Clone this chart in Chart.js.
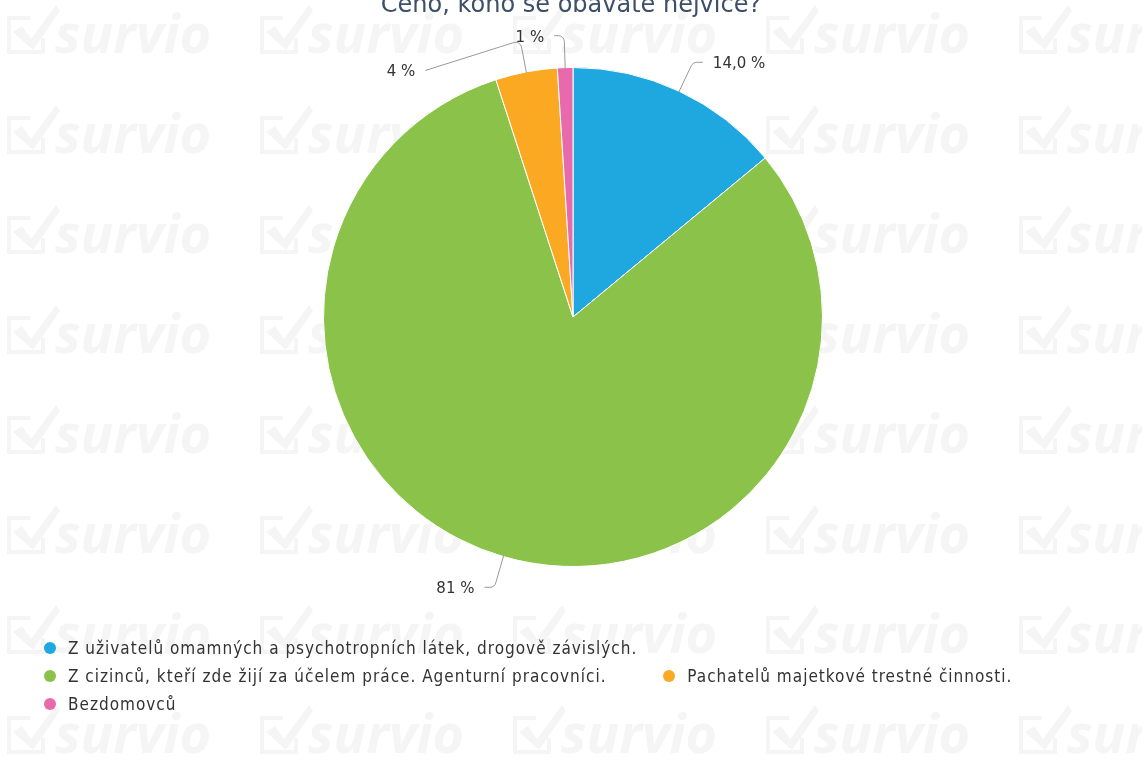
<!DOCTYPE html>
<html>
<head>
<meta charset="utf-8">
<script src="https://cdn.jsdelivr.net/npm/chart.js@4.4.1/dist/chart.umd.min.js"></script>
<style>
  html, body { margin: 0; padding: 0; background: #fff; }
  #wrap { position: relative; width: 1142px; height: 757px; overflow: hidden; }
  #c { position: absolute; left: 0; top: 0; }
  #legend {
    position: absolute; left: 44px; top: 637px;
    display: grid; grid-template-columns: max-content max-content;
    column-gap: 26px; row-gap: 6px;
    font-family: "DejaVu Sans Condensed", "DejaVu Sans", sans-serif; font-size: 17px; color: #333;
    letter-spacing: 1px;
  }
  .li { display: flex; align-items: center; white-space: nowrap; height: 22px; }
  .dot { width: 12px; height: 12px; border-radius: 50%; margin-right: 12px; flex: none; }
</style>
</head>
<body>
<div id="wrap">
  <canvas id="c" width="1142" height="757"></canvas>
  <div id="legend"></div>
</div>
<script>
const titleText = "Čeho, koho se obáváte nejvíce?";
const categories = [
  "Z uživatelů omamných a psychotropních látek, drogově závislých.",
  "Z cizinců, kteří zde žijí za účelem práce. Agenturní pracovníci.",
  "Pachatelů majetkové trestné činnosti.",
  "Bezdomovců"
];
const values = [14, 81, 4, 1];
const valueLabels = ["14,0 %", "81 %", "4 %", "1 %"];
const colors = ["#1fa8e0", "#8bc34a", "#fba923", "#e86aad"];

const watermark = {
  id: 'watermark',
  beforeDraw(chart) {
    const ctx = chart.ctx;
    ctx.save();
    ctx.fillStyle = '#f5f5f5';
    ctx.strokeStyle = '#f5f5f5';
    for (let j = 0; j < 8; j++) {
      for (let i = 0; i < 5; i++) {
        const x0 = 253 * i, y0 = 100 * j;
        ctx.lineWidth = 4;
        ctx.beginPath();
        ctx.moveTo(x0 + 30, y0 + 18);
        ctx.lineTo(x0 + 9, y0 + 18);
        ctx.lineTo(x0 + 9, y0 + 52);
        ctx.lineTo(x0 + 43, y0 + 52);
        ctx.lineTo(x0 + 43, y0 + 38);
        ctx.stroke();
        ctx.beginPath();
        ctx.moveTo(x0 + 13, y0 + 32);
        ctx.lineTo(x0 + 22, y0 + 26);
        ctx.lineTo(x0 + 31, y0 + 39);
        ctx.lineTo(x0 + 56, y0 + 5);
        ctx.lineTo(x0 + 60, y0 + 11);
        ctx.lineTo(x0 + 33, y0 + 50);
        ctx.closePath();
        ctx.fill();
        ctx.font = 'italic bold 54px "Open Sans", sans-serif';
        ctx.textBaseline = 'alphabetic';
        ctx.fillText('survio', x0 + 55, y0 + 53);
      }
    }
    ctx.restore();
  }
};

const titlePlugin = {
  id: 'titleTop',
  afterDraw(chart) {
    const ctx = chart.ctx;
    ctx.save();
    ctx.font = '24px "DejaVu Sans", sans-serif';
    ctx.fillStyle = '#3d5068';
    ctx.textAlign = 'center';
    ctx.textBaseline = 'alphabetic';
    ctx.fillText(titleText, 571, 12);
    ctx.restore();
  }
};

const pieLabels = {
  id: 'pieLabels',
  afterDatasetsDraw(chart, args, opts) {
    const ctx = chart.ctx;
    const meta = chart.getDatasetMeta(0);
    ctx.save();
    meta.data.forEach((arc, i) => {
      const p = arc.getProps(['x', 'y', 'startAngle', 'endAngle', 'outerRadius'], true);
      const mid = (p.startAngle + p.endAngle) / 2;
      const r = p.outerRadius;
      const cos = Math.cos(mid), sin = Math.sin(mid);
      const right = cos >= 0;
      const x0 = p.x + cos * (r - 1), y0 = p.y + sin * (r - 1);
      const x1 = p.x + cos * (r + opts.distance), y1 = p.y + sin * (r + opts.distance);
      const sh = opts.shift[i] || [0, 0];
      const x2 = x1 + (right ? 10 : -10) + sh[0], y2 = y1 + sh[1];
      ctx.strokeStyle = '#999';
      ctx.lineWidth = 1;
      ctx.beginPath();
      ctx.moveTo(x0, y0);
      ctx.arcTo(x1, y1, x2, y2, 6);
      ctx.lineTo(x2, y2);
      ctx.stroke();
      ctx.font = '15px "DejaVu Sans", sans-serif';
      ctx.fillStyle = '#333';
      ctx.textBaseline = 'middle';
      ctx.textAlign = right ? 'left' : 'right';
      ctx.fillText(valueLabels[i], x2 + (right ? 10 : -10), y2 + 2);
    });
    ctx.restore();
  }
};

const chart = new Chart(document.getElementById('c'), {
  type: 'pie',
  data: {
    labels: categories,
    datasets: [{
      data: values,
      backgroundColor: colors,
      borderColor: '#ffffff',
      borderWidth: 1
    }]
  },
  options: {
    responsive: false,
    animation: false,
    layout: { padding: { left: 323, right: 319, top: 67, bottom: 190 } },
    plugins: {
      legend: { display: false },
      tooltip: { enabled: false },
      pieLabels: { distance: 32, shift: [[0, 0], [0, 0], [-85, 30], [0, 0]] }
    }
  },
  plugins: [watermark, pieLabels, titlePlugin]
});

// HTML legend built from the pie chart's own legend items
const items = Chart.overrides.pie.plugins.legend.labels.generateLabels(chart);
const legendEl = document.getElementById('legend');
const placement = [[1, 1], [2, 1], [2, 2], [3, 1]];
items.forEach((it, i) => {
  const d = document.createElement('div');
  d.className = 'li';
  d.style.gridRow = placement[i][0];
  d.style.gridColumn = placement[i][1];
  const dot = document.createElement('span');
  dot.className = 'dot';
  dot.style.background = it.fillStyle;
  const t = document.createElement('span');
  t.textContent = it.text;
  d.appendChild(dot); d.appendChild(t);
  legendEl.appendChild(d);
});
</script>
</body>
</html>
